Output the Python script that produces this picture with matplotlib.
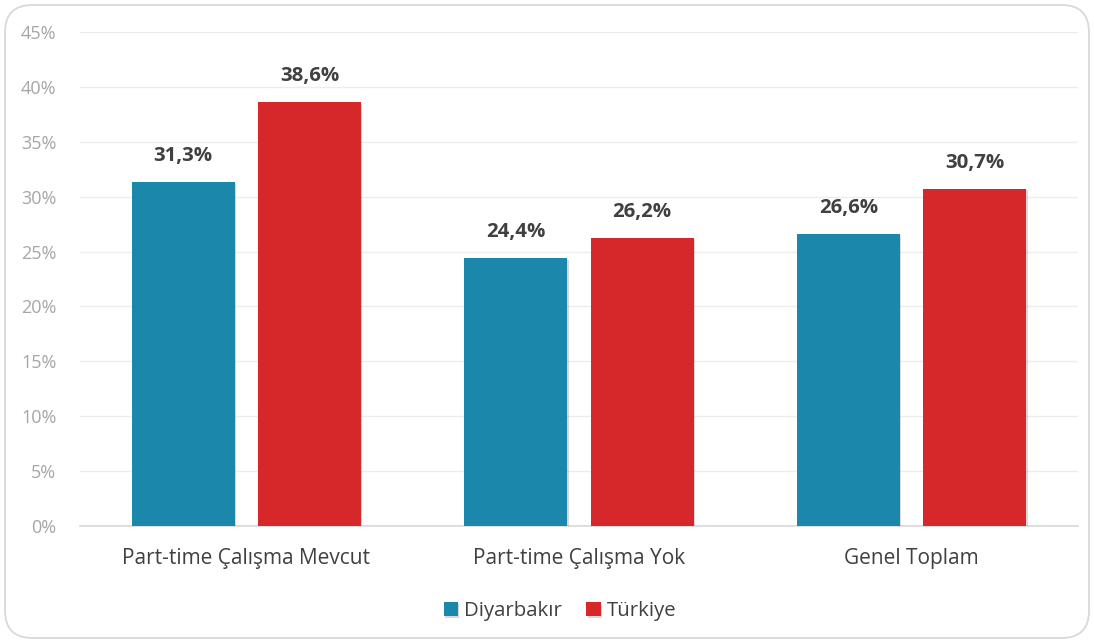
import matplotlib.pyplot as plt
import numpy as np
from matplotlib.patches import FancyBboxPatch
import matplotlib.patheffects as pe
from matplotlib.ticker import MultipleLocator, FuncFormatter

plt.rcParams["font.family"] = ["Open Sans", "DejaVu Sans"]

categories = ["Part-time Çalışma Mevcut", "Part-time Çalışma Yok", "Genel Toplam"]
series_names = ["Diyarbakır", "Türkiye"]
diyarbakir = [31.3, 24.4, 26.6]
turkiye = [38.6, 26.2, 30.7]

colors = ["#1B87AB", "#D6282A"]

fig = plt.figure(figsize=(10.94, 6.43), dpi=100)
ax = fig.add_axes([80 / 1094, 1 - 526 / 643, 998 / 1094, (526 - 32) / 643])

# rounded outer border
border = FancyBboxPatch((5 / 1094, 5 / 643), 1 - 10 / 1094, 1 - 10 / 643,
                        boxstyle="round,pad=0,rounding_size=0.025",
                        transform=fig.transFigure, facecolor="none",
                        edgecolor="#D9D9D9", linewidth=1.3, mutation_aspect=1094 / 643)
fig.patches.append(border)

x = np.arange(len(categories))
width = 0.31
offset = 0.19
shadow = [pe.SimplePatchShadow(offset=(1, -1), shadow_rgbFace="#000000", alpha=0.15), pe.Normal()]
for vals, col, off, name in [(diyarbakir, colors[0], -offset, series_names[0]),
                             (turkiye, colors[1], offset, series_names[1])]:
    bars = ax.bar(x + off, vals, width=width, color=col, label=name, zorder=3)
    for b in bars:
        b.set_path_effects(shadow)
    for xi, v in zip(x + off, vals):
        ax.text(xi, v + 1.5, f"{v:.1f}%".replace(".", ","), ha="center", va="bottom",
                fontsize=14.7, fontweight="bold", color="#404040")

ax.set_xlim(-0.5, 2.5)
ax.set_ylim(0, 45)
ax.yaxis.set_major_locator(MultipleLocator(5))
ax.yaxis.set_major_formatter(FuncFormatter(lambda v, p: f"{v:.0f}%"))
ax.grid(axis="y", color="#EDEDED", linewidth=1, zorder=0)
ax.set_axisbelow(True)
for s in ["top", "right", "left"]:
    ax.spines[s].set_visible(False)
ax.spines["bottom"].set_color("#D9D9D9")
ax.spines["bottom"].set_linewidth(1.2)
ax.tick_params(axis="y", length=0, labelsize=13, labelcolor="#A6A6A6", pad=17)
ax.tick_params(axis="x", length=0, labelsize=15, labelcolor="#404040", pad=16)
ax.set_xticks(x)
ax.set_xticklabels(categories)

ax.legend(loc="center", bbox_to_anchor=(0.481, -0.173), ncol=2, frameon=False,
          fontsize=14.7, handlelength=0.7, handleheight=0.7, handletextpad=0.3,
          columnspacing=1.2, labelcolor="#404040")

fig.savefig("out.png", dpi=100)
